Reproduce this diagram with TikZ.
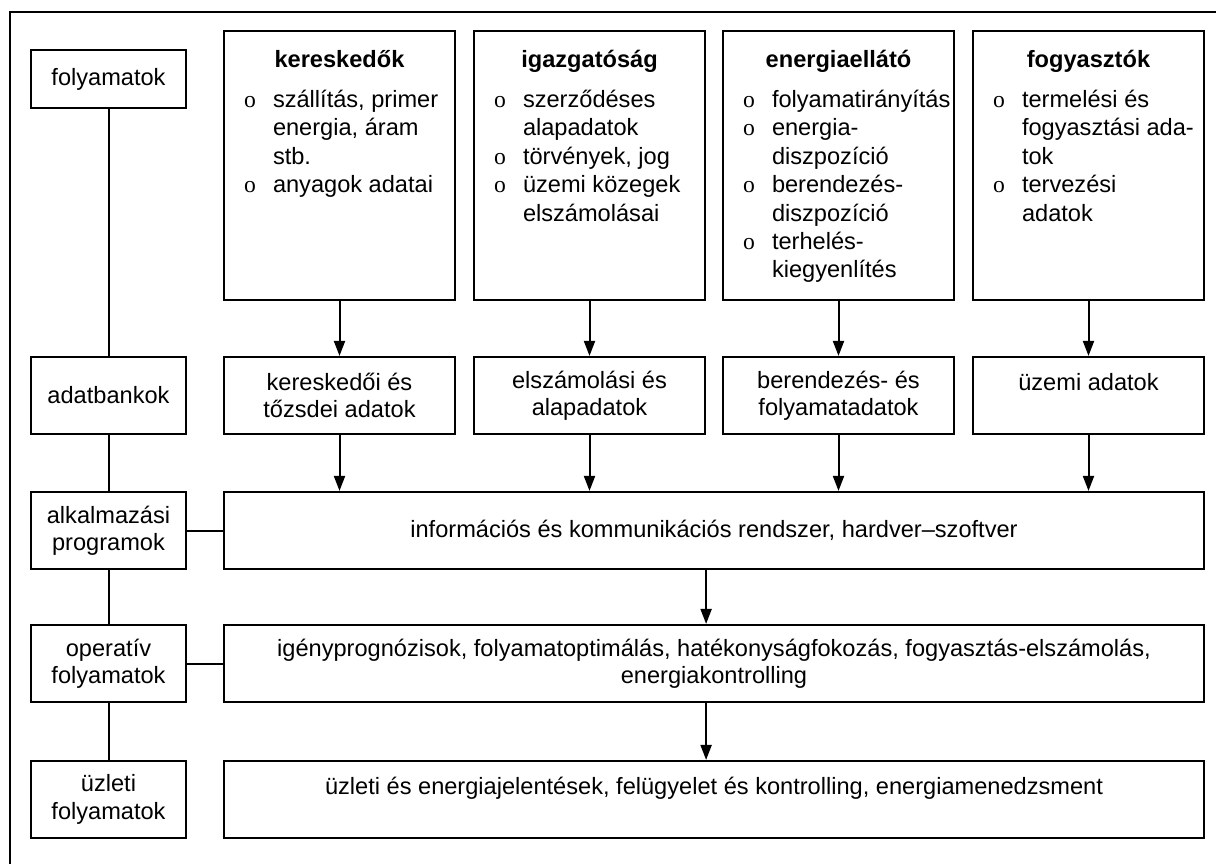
\documentclass[tikz,border=0pt]{standalone}
\usepackage{fontspec}
\setmainfont{Liberation Sans}
\newfontfamily\bulletfont{Liberation Serif}
\usetikzlibrary{arrows.meta}

% felsorolas pontja a felso dobozokban
\newcommand\pont[1]{\par\hangindent=24.5pt\hangafter=1\noindent\hspace*{10pt}\makebox[14.5pt][l]{\bulletfont o}#1\par}
\newcommand\fejlec[2]{\parbox[t][134.5pt][t]{115.5pt}{\centering\rule{0pt}{18pt}\textbf{#1}\par\vspace{6pt}\raggedright #2}}

\begin{document}
\begin{tikzpicture}[x=0.5pt,y=-0.5pt]
\tikzset{doboz/.style={draw, line width=1.1pt, align=center, inner sep=0pt, minimum width=77.5pt, minimum height=38.5pt, font=\fontsize{11.8}{13.75}\selectfont}}
\tikzset{fejdoboz/.style={draw, line width=1.1pt, inner sep=0pt, minimum width=115.5pt, minimum height=134.5pt, font=\fontsize{11.8}{14.2}\selectfont}}
\tikzset{adatdoboz/.style={doboz, minimum width=115.5pt}}
\tikzset{szeles/.style={doboz, minimum width=490pt}}
\tikzset{vonal/.style={line width=1pt}}
\tikzset{nyil/.style={line width=1pt, -{Triangle[length=7.5pt,width=5.5pt]}}}
\useasboundingbox (0,0) rectangle (1216,864);
\draw[line width=1.4pt] (1216,12) -- (10,12) -- (10,864);
% bal oszlop
\node[doboz, minimum height=29pt] (folyam) at (108.5,79) {folyamatok};
\node[doboz] (adatb) at (108.5,395.5) {adatbankok};
\node[doboz] (alkalm) at (108.5,530.5) {alkalmazási\\programok};
\node[doboz] (operat) at (108.5,663.5) {operatív\\folyamatok};
\node[doboz] (uzletf) at (108.5,799.5) {üzleti\\folyamatok};
% felso dobozok
\node[fejdoboz] (keresk) at (339.5,165.5) {\fejlec{kereskedők}{\pont{szállítás, primer\newline energia, áram\newline stb.}\pont{anyagok adatai}}};
\node[fejdoboz] (igazg) at (589.5,165.5) {\fejlec{igazgatóság}{\pont{szerződéses\newline alapadatok}\pont{törvények, jog}\pont{üzemi közegek\newline elszámolásai}}};
\node[fejdoboz] (energ) at (838.5,165.5) {\fejlec{energiaellátó}{\pont{folyamatirányítás}\pont{energia-\newline diszpozíció}\pont{berendezés-\newline diszpozíció}\pont{terhelés-\newline kiegyenlítés}}};
\node[fejdoboz] (fogy) at (1088.5,165.5) {\fejlec{fogyasztók}{\pont{termelési és\newline fogyasztási ada-\newline tok}\pont{tervezési\newline adatok}}};
% adatbankok sora
\node[adatdoboz] (kertozs) at (339.5,395.5) {kereskedői és\\tőzsdei adatok};
\node[adatdoboz] (elszam) at (589.5,395.5) {elszámolási és\\alapadatok};
\node[adatdoboz] (berend) at (838.5,395.5) {berendezés- és\\folyamatadatok};
\node[adatdoboz] (uzemi) at (1088.5,395.5) {üzemi adatok\\~};
% szeles dobozok
\node[szeles] (info) at (714,530.5) {információs és kommunikációs rendszer, hardver–szoftver};
\node[szeles] (igeny) at (714,663.5) {igényprognózisok, folyamatoptimálás, hatékonyságfokozás, fogyasztás-elszámolás,\\energiakontrolling};
\node[szeles] (uzlet) at (714,799.5) {üzleti és energiajelentések, felügyelet és kontrolling, energiamenedzsment\\~};
% kapcsolatok
\draw[vonal] (folyam) -- (adatb);
\draw[vonal] (adatb) -- (alkalm);
\draw[vonal] (alkalm) -- (operat);
\draw[vonal] (operat) -- (uzletf);
\draw[vonal] (alkalm) -- (info);
\draw[vonal] (operat) -- (igeny);
\draw[nyil] (keresk) -- (kertozs);
\draw[nyil] (igazg) -- (elszam);
\draw[nyil] (energ) -- (berend);
\draw[nyil] (fogy) -- (uzemi);
\draw[nyil] (kertozs) -- (kertozs |- info.north);
\draw[nyil] (elszam) -- (elszam |- info.north);
\draw[nyil] (berend) -- (berend |- info.north);
\draw[nyil] (uzemi) -- (uzemi |- info.north);
\draw[nyil] (info.south -| igazg.east) -- (igeny.north -| igazg.east);
\draw[nyil] (igeny.south -| igazg.east) -- (uzlet.north -| igazg.east);
\end{tikzpicture}
\end{document}
